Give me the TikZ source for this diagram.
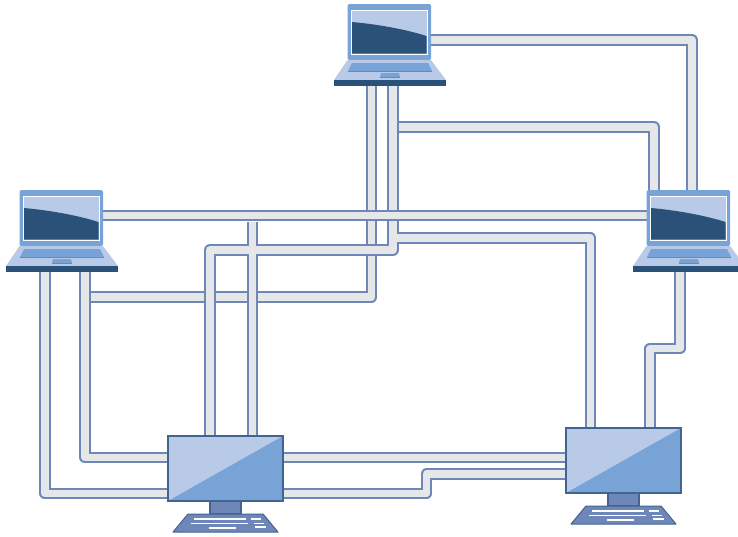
\documentclass[tikz,border=0pt]{standalone}
\usepackage{xcolor}
\usetikzlibrary{arrows.meta, positioning}
\definecolor{cLight}{HTML}{B8CAE8}
\definecolor{cMid}{HTML}{78A3D6}
\definecolor{cDark}{HTML}{2A5278}
\definecolor{cEdge}{HTML}{3F6590}
\definecolor{cSlate}{HTML}{6F87B8}
\definecolor{cTube}{HTML}{E6E7E9}
\tikzset{
  cable/.style={draw=cSlate, line width=2pt, double=cTube, double distance=7.6pt, line join=round},
  lapbox/.style={minimum width=112pt, minimum height=82pt, inner sep=0pt, outer sep=0pt},
  deskbox/.style={minimum width=115pt, minimum height=65pt, inner sep=0pt, outer sep=0pt},
  laptop/.pic={
    \fill[cMid, rounded corners=1.5pt] (-42.5,15) -- (-42.5,-41) -- (41,-41) -- (41,15) -- cycle;
    \fill[cLight] (-42.5,15) -- (41,15) -- (56,35) -- (-56,35) -- cycle;
    \draw[white, fill=cLight, line width=0.9pt] (-39,-35) rectangle (37,9);
    \fill[cDark] (-38,-23) .. controls (-15,-21) and (15,-16) .. (36.5,-9) -- (36.5,8.5) -- (-38,8.5) -- cycle;
    \fill[cMid] (-38,18) -- (38,18) -- (42,26) -- (-42,26) -- cycle;
    \draw[cSlate, line width=0.7pt] (-42,26) -- (42,26);
    \fill[cMid] (-9,28) -- (9,28) -- (10,32) -- (-10,32) -- cycle;
    \draw[cSlate, line width=0.7pt] (-10,32) -- (10,32);
    \fill[cDark] (-56,35) rectangle (56,41);
  },
  desktop/.pic={
    \draw[cEdge, fill=cSlate, line width=1.2pt] (-15.5,32.5) rectangle (15.5,45.5);
    \draw[cEdge, fill=cSlate, line width=1pt, line join=round] (-37.5,45.5) -- (37.5,45.5) -- (52.5,63.5) -- (-52.5,63.5) -- cycle;
    \fill[cLight] (-57.5,-32.5) rectangle (57.5,32.5);
    \fill[cMid] (57.5,-32.5) -- (57.5,32.5) -- (-57.5,32.5) -- cycle;
    \draw[cEdge, line width=1.5pt] (-57.5,-32.5) rectangle (57.5,32.5);
    \draw[white, line width=1.2pt] (-31.5,50.5) -- (20.5,50.5) (25.5,50.5) -- (35.5,50.5);
    \draw[white, line width=1.2pt] (-34.5,55) -- (22.5,55) (28,55) -- (38,55);
    \draw[white, line width=1.2pt] (-16.5,59.5) -- (10.5,59.5) (29.5,58.5) -- (40.5,58.5);
  }
}

\begin{document}
\begin{tikzpicture}[x=1pt, y=-1pt]
  \path[use as bounding box, clip] (0,0) rectangle (738,536);
  \node[lapbox] (lapTop) at (390,45) {};
  \node[lapbox] (lapLeft) at (62,231) {};
  \node[lapbox] (lapRight) at (689,231) {};
  \node[deskbox] (deskLeft) at (225.5,468.5) {};
  \node[deskbox] (deskRight) at (623.5,460.5) {};
  \coordinate (jog) at (426.5,474);
  \coordinate (midRight) at (650,348.5);
  \draw[cable] ([yshift=5pt]lapTop.center) -| ([xshift=3pt]lapRight.north);
  \draw[cable] ([xshift=-17pt]lapLeft.south) |- ([yshift=-25pt]deskLeft.west);
  \draw[cable] ([xshift=23pt,yshift=-25pt]lapLeft.south) -| ([xshift=-18.5pt]lapTop.south);
  \draw[cable] ([xshift=23pt]lapLeft.south) |- ([yshift=11pt]deskLeft.west);
  \draw[cable] ([yshift=11pt]deskLeft.east) -- ([yshift=3pt]deskRight.west);
  \draw[cable] ([yshift=-25pt]deskLeft.east) -| (jog) -- ([yshift=-13.5pt]deskRight.west);
  \draw[cable] ([xshift=-9pt]lapRight.south) |- (midRight) -- ([xshift=26.5pt]deskRight.north);
  \draw[cable] ([xshift=3pt,yshift=-41pt]lapTop.south) -| ([xshift=-35pt]lapRight.north);
  \draw[cable] ([xshift=3pt]lapTop.south) |- ([xshift=-15.5pt,yshift=186pt]deskLeft.north) -- ([xshift=-15.5pt]deskLeft.north)
    ([xshift=3pt,yshift=-152pt]lapTop.south) -| ([xshift=-33pt]deskRight.north)
    ([xshift=27pt,yshift=214pt]deskLeft.north) -- ([xshift=27pt]deskLeft.north);
  \draw[cable] ([yshift=15.5pt]lapLeft.center) -- ([yshift=15.5pt]lapRight.center);
  \pic at (lapTop) {laptop};
  \pic at (lapLeft) {laptop};
  \pic at (lapRight) {laptop};
  \pic at (deskLeft) {desktop};
  \pic at (deskRight) {desktop};
\end{tikzpicture}
\end{document}
